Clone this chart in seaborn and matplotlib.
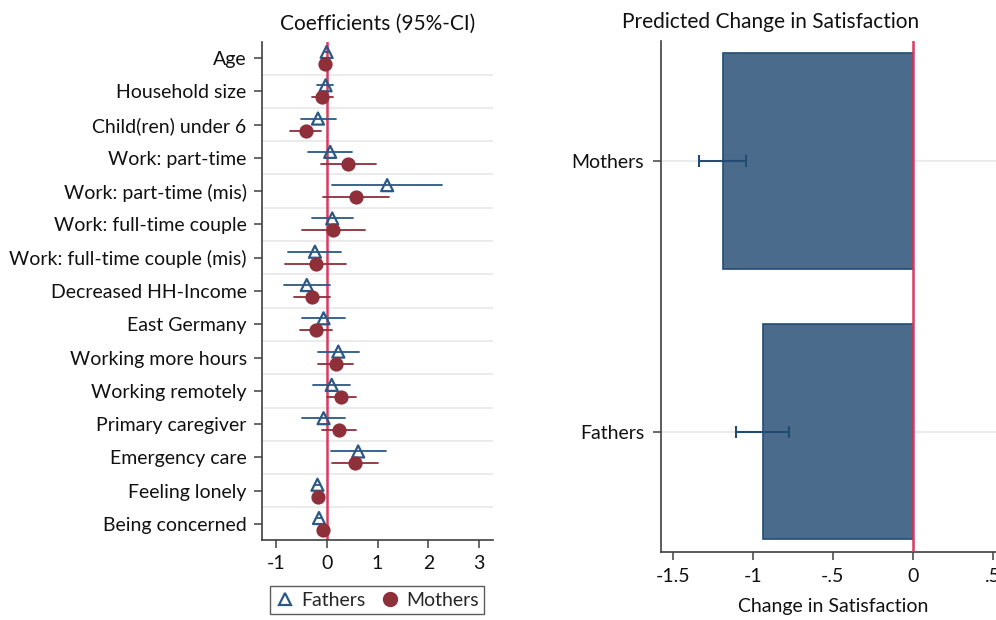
import numpy as np
import pandas as pd
import matplotlib
matplotlib.use("Agg")
import matplotlib.pyplot as plt
import seaborn as sns
from matplotlib.lines import Line2D

sns.set_theme(style="white")
plt.rcParams['font.family'] = ['Lato', 'DejaVu Sans']

# ---------------- data ----------------
variables = ["Age", "Household size", "Child(ren) under 6", "Work: part-time",
             "Work: part-time (mis)", "Work: full-time couple",
             "Work: full-time couple (mis)", "Decreased HH-Income", "East Germany",
             "Working more hours", "Working remotely", "Primary caregiver",
             "Emergency care", "Feeling lonely", "Being concerned"]
fathers_coef = [0.00, -0.02, -0.17, 0.07, 1.19, 0.11, -0.23, -0.39, -0.06, 0.23, 0.10, -0.06, 0.62, -0.18, -0.15]
fathers_lo   = [-0.03, -0.18, -0.51, -0.36, 0.11, -0.29, -0.75, -0.84, -0.49, -0.16, -0.26, -0.49, 0.08, -0.23, -0.20]
fathers_hi   = [0.03, 0.13, 0.19, 0.50, 2.27, 0.51, 0.29, 0.07, 0.37, 0.64, 0.45, 0.36, 1.16, -0.13, -0.10]
mothers_coef = [-0.03, -0.09, -0.41, 0.43, 0.57, 0.13, -0.21, -0.28, -0.21, 0.18, 0.28, 0.24, 0.55, -0.17, -0.07]
mothers_lo   = [-0.06, -0.29, -0.72, -0.11, -0.07, -0.49, -0.82, -0.65, -0.52, -0.16, 0.00, -0.10, 0.10, -0.22, -0.12]
mothers_hi   = [0.00, 0.13, -0.11, 0.98, 1.22, 0.76, 0.39, 0.07, 0.11, 0.52, 0.57, 0.58, 1.01, -0.12, -0.02]

groups = ["Mothers", "Fathers"]
pred_change = [-1.19, -0.94]
pred_lo = [-1.337, -1.105]
pred_hi = [-1.045, -0.773]

xticks_left = [-1, 0, 1, 2, 3]
xticks_right = [-1.5, -1, -0.5, 0, 0.5]
xtick_labels_right = ["-1.5", "-1", "-.5", "0", ".5"]

# ---------------- style ----------------
C_F = "#2b5885"
C_M = "#8e2f39"
C_ZERO = "#d93a60"
C_BAR = "#4a6b8c"
C_BAR_EDGE = "#234c73"
C_GRID = "#e8e8e8"
C_SPINE = "#404040"
FS = 14
FT = 15

W, H = 996, 620
fig = plt.figure(figsize=(W / 100, H / 100), dpi=100)

def ax_rect(x0, y0, x1, y1):
    return [x0 / W, 1 - y1 / H, (x1 - x0) / W, (y1 - y0) / H]

# ---------------- left panel ----------------
ax1 = fig.add_axes(ax_rect(262, 42, 493, 540))
n = len(variables)
ypos = np.arange(n)
off = 0.18

df_f = pd.DataFrame({"var": variables, "coef": fathers_coef, "y": ypos - off})
df_m = pd.DataFrame({"var": variables, "coef": mothers_coef, "y": ypos + off})

for i in range(n):
    ax1.plot([fathers_lo[i], fathers_hi[i]], [ypos[i] - off] * 2, color=C_F, lw=1.3, zorder=3)
    ax1.plot([mothers_lo[i], mothers_hi[i]], [ypos[i] + off] * 2, color=C_M, lw=1.3, zorder=3)

ax1.axvline(0, color=C_ZERO, lw=1.8, zorder=2)
sns.scatterplot(data=df_f, x="coef", y="y", marker="^", s=75, facecolor="none",
                edgecolor=C_F, linewidth=1.6, ax=ax1, zorder=5, legend=False)
sns.scatterplot(data=df_m, x="coef", y="y", marker="o", s=105, color=C_M,
                edgecolor=C_M, linewidth=0, ax=ax1, zorder=5, legend=False)

for g in np.arange(0.5, n - 1, 1.0):
    ax1.axhline(g, color=C_GRID, lw=1.2, zorder=0)

ax1.set_ylim(n - 1 + 0.48, -0.48)
ax1.set_xlim(-1.27, 3.27)
ax1.set_yticks(ypos)
ax1.set_yticklabels(variables, fontsize=FS, color="#111111")
ax1.set_xticks(xticks_left)
ax1.set_xticklabels([str(t) for t in xticks_left], fontsize=FS, color="#111111")
ax1.set_xlabel("")
ax1.set_ylabel("")
for s in ["top", "right"]:
    ax1.spines[s].set_visible(False)
for s in ["left", "bottom"]:
    ax1.spines[s].set_color(C_SPINE)
    ax1.spines[s].set_linewidth(1.2)
ax1.tick_params(axis="both", which="both", length=6, width=1.1, color=C_SPINE,
                direction="out", pad=5, left=True, bottom=True)
ax1.set_title("Coefficients (95%-CI)", fontsize=FT, color="#111111", pad=9)

handles = [Line2D([], [], marker="^", ls="none", markerfacecolor="none",
                  markeredgecolor=C_F, markeredgewidth=1.6, markersize=8, label="Fathers"),
           Line2D([], [], marker="o", ls="none", color=C_M, markersize=10, label="Mothers")]
leg = fig.legend(handles=handles, loc="center", bbox_to_anchor=(377 / W, 1 - 600 / H),
                 ncol=2, fontsize=FS, frameon=True, fancybox=False, edgecolor="#333333",
                 handletextpad=0.3, columnspacing=0.8, borderpad=0.3, handlelength=1.0,
                 borderaxespad=0)
leg.get_frame().set_linewidth(1.0)

# ---------------- right panel ----------------
ax2 = fig.add_axes(ax_rect(660.7, 41, 1005, 551.7))
df_p = pd.DataFrame({"group": groups, "change": pred_change})
sns.barplot(data=df_p, x="change", y="group", orient="h", color=C_BAR, width=0.795,
            saturation=1, edgecolor=C_BAR_EDGE, linewidth=1.2, ax=ax2, zorder=3)
ax2.axvline(0, color=C_ZERO, lw=1.8, zorder=4)
for i in range(len(groups)):
    ax2.axhline(i, color=C_GRID, lw=1.2, zorder=0)
    ax2.errorbar(x=pred_change[i], y=i,
                 xerr=[[pred_change[i] - pred_lo[i]], [pred_hi[i] - pred_change[i]]],
                 fmt="none", ecolor=C_BAR_EDGE, elinewidth=1.5, capsize=4.5,
                 capthick=1.5, zorder=5)
ax2.set_xlim(-1.579, 0.578)
ax2.set_ylim(1.443, -0.443)
ax2.set_xticks(xticks_right)
ax2.set_xticklabels(xtick_labels_right, fontsize=FS, color="#111111")
ax2.set_yticks([0, 1])
ax2.set_yticklabels(groups, fontsize=FS, color="#111111")
ax2.set_ylabel("")
ax2.set_xlabel("Change in Satisfaction", fontsize=FS, color="#111111", labelpad=9)
for s in ["top", "right"]:
    ax2.spines[s].set_visible(False)
for s in ["left", "bottom"]:
    ax2.spines[s].set_color(C_SPINE)
    ax2.spines[s].set_linewidth(1.2)
ax2.tick_params(axis="both", which="both", length=6, width=1.1, color=C_SPINE,
                direction="out", pad=6, left=True, bottom=True)
fig.text(771 / W, 1 - 22 / H, "Predicted Change in Satisfaction", ha="center",
         va="center", fontsize=FT, color="#111111")

fig.savefig("out.png", dpi=100, facecolor="white")
